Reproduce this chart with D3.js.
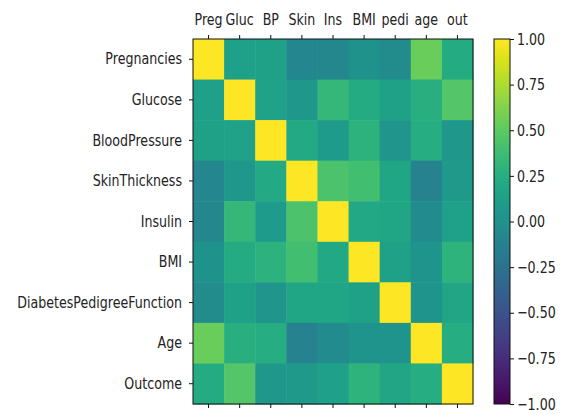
<!DOCTYPE html>
<html>
<head>
<meta charset="utf-8">
<script src="https://cdn.jsdelivr.net/npm/d3@7"></script>
<style>
  html, body { margin: 0; padding: 0; background: #fff; }
  svg { display: block; }
  text { font-family: "DejaVu Sans", sans-serif; fill: #222; }
</style>
</head>
<body>
<svg id="chart" width="563" height="414"></svg>
<script>
// Variable names (rows) and short labels (columns)
const rowLabels = ["Pregnancies", "Glucose", "BloodPressure", "SkinThickness", "Insulin",
  "BMI", "DiabetesPedigreeFunction", "Age", "Outcome"];
const colLabels = ["Preg", "Gluc", "BP", "Skin", "Ins", "BMI", "pedi", "age", "out"];

// Pearson correlation matrix, one array per row
const rowPregnancies = [1.000, 0.129, 0.141, -0.082, -0.074, 0.018, -0.034, 0.544, 0.222];
const rowGlucose     = [0.129, 1.000, 0.153, 0.057, 0.331, 0.221, 0.137, 0.264, 0.467];
const rowBloodPress  = [0.141, 0.153, 1.000, 0.207, 0.089, 0.282, 0.041, 0.240, 0.065];
const rowSkin        = [-0.082, 0.057, 0.207, 1.000, 0.437, 0.393, 0.184, -0.114, 0.075];
const rowInsulin     = [-0.074, 0.331, 0.089, 0.437, 1.000, 0.198, 0.185, -0.042, 0.131];
const rowBMI         = [0.018, 0.221, 0.282, 0.393, 0.198, 1.000, 0.141, 0.036, 0.293];
const rowPedigree    = [-0.034, 0.137, 0.041, 0.184, 0.185, 0.141, 1.000, 0.034, 0.174];
const rowAge         = [0.544, 0.264, 0.240, -0.114, -0.042, 0.036, 0.034, 1.000, 0.238];
const rowOutcome     = [0.222, 0.467, 0.065, 0.075, 0.131, 0.293, 0.174, 0.238, 1.000];
const matrix = [rowPregnancies, rowGlucose, rowBloodPress, rowSkin, rowInsulin,
  rowBMI, rowPedigree, rowAge, rowOutcome];

// Colorbar ticks
const cbarTicks = [1.00, 0.75, 0.50, 0.25, 0.00, -0.25, -0.50, -0.75, -1.00];

const svg = d3.select("#chart");
const plot = { left: 193, top: 39, right: 473, bottom: 404 };
const SX = 0.79;          // narrow glyphs horizontally
const FONT = "16px";

const x = d3.scaleBand().domain(colLabels).range([plot.left, plot.right]);
const y = d3.scaleBand().domain(rowLabels).range([plot.top, plot.bottom]);
const color = d3.scaleSequential(d3.interpolateViridis).domain([-1, 1]);

const cells = [];
matrix.forEach((row, i) => row.forEach((v, j) => cells.push({ r: rowLabels[i], c: colLabels[j], v })));

svg.append("g").selectAll("rect").data(cells).join("rect")
  .attr("x", d => x(d.c))
  .attr("y", d => y(d.r))
  .attr("width", x.bandwidth() + 0.5)
  .attr("height", y.bandwidth() + 0.5)
  .attr("fill", d => color(d.v));

svg.append("rect")
  .attr("x", plot.left).attr("y", plot.top)
  .attr("width", plot.right - plot.left).attr("height", plot.bottom - plot.top)
  .attr("fill", "none").attr("stroke", "#111").attr("stroke-width", 1);

// Shared tick styling; labels are condensed with a horizontal scale
const styleAxis = (g, textX) => {
  g.select(".domain").remove();
  g.selectAll(".tick line").attr("stroke", "#111");
  const t = g.selectAll(".tick text").attr("fill", "#222").style("font-size", FONT)
    .style("font-family", "'DejaVu Sans', sans-serif")
    .attr("transform", `scale(${SX},1)`);
  if (textX !== undefined) t.attr("x", textX / SX);
};

svg.append("g").attr("transform", `translate(0,${plot.top})`)
  .call(d3.axisTop(x).tickSize(4).tickPadding(10)).call(g => styleAxis(g));
svg.append("g").attr("transform", `translate(0,${plot.bottom})`)
  .call(d3.axisBottom(x).tickSize(4).tickFormat("")).call(g => styleAxis(g));
svg.append("g").attr("transform", `translate(${plot.left},0)`)
  .call(d3.axisLeft(y).tickSize(4)).call(g => styleAxis(g, -11));

// Colorbar
const cb = { left: 494, right: 510 };
const cy = d3.scaleLinear().domain([-1, 1]).range([plot.bottom, plot.top]);
const defs = svg.append("defs");
const grad = defs.append("linearGradient").attr("id", "cbar")
  .attr("x1", 0).attr("y1", 1).attr("x2", 0).attr("y2", 0);
d3.range(0, 1.0001, 0.05).forEach(t => {
  grad.append("stop").attr("offset", t).attr("stop-color", d3.interpolateViridis(t));
});
svg.append("rect")
  .attr("x", cb.left).attr("y", plot.top)
  .attr("width", cb.right - cb.left).attr("height", plot.bottom - plot.top)
  .attr("fill", "url(#cbar)").attr("stroke", "#111").attr("stroke-width", 1);
svg.append("g").attr("transform", `translate(${cb.right},0)`)
  .call(d3.axisRight(cy).tickValues(cbarTicks).tickSize(4)
    .tickFormat(d => d3.format(".2f")(d).replace("-", "\u2212")))
  .call(g => styleAxis(g, 7));
</script>
</body>
</html>
